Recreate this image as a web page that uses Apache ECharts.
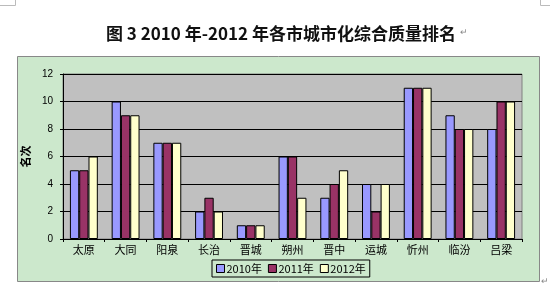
<!DOCTYPE html>
<html><head><meta charset="utf-8">
<script src="https://cdn.jsdelivr.net/npm/echarts@6/dist/echarts.min.js"></script>
<style>html,body{margin:0;padding:0;background:#fff}#c{width:550px;height:291px}</style>
</head><body><div id="c"></div>
<script>
const categories = ['太原','大同','阳泉','长治','晋城','朔州','晋中','运城','忻州','临汾','吕梁'];
const s2010 = [5,10,7,2,1,6,3,4,11,9,8];
const s2011 = [5,9,7,3,1,6,4,2,11,8,10];
const s2012 = [6,9,7,2,1,3,5,4,11,8,10];
const seriesNames = ['2010年','2011年','2012年'];
const yTicks = {min:0,max:12,interval:2};

const colors = ['#9999ff','#993366','#ffffcc'];
const chart = echarts.init(document.getElementById('c'), null, {renderer:'canvas'});
const mk = (name, data, i) => ({
  name, type:'bar', data, barWidth:9.3, barGap:'0%',
  itemStyle:{color:colors[i], borderColor:'#000', borderWidth:1},
  emphasis:{disabled:true}
});
chart.setOption({
  animation:false,
  title:{text:'图 3 2010 年-2012 年各市城市化综合质量排名', left:101, top:20,
    textStyle:{fontFamily:'Noto Sans CJK SC', fontSize:17, fontWeight:'bold', color:'#111'}},
  graphic:[
    {type:'rect', z:-10, shape:{x:17.5,y:56.5,width:522,height:225}, style:{fill:'#cce8cc', stroke:'#888', lineWidth:1}},
    {type:'rect', z:-9, shape:{x:63,y:74,width:459,height:165}, style:{fill:'#c0c0c0', stroke:'#808080', lineWidth:1}},
    {type:'polyline', shape:{points:[[0,5.5],[15.5,5.5],[15.5,0]]}, style:{stroke:'#bbb', fill:null, lineWidth:1}},
    {type:'polyline', shape:{points:[[550,5.5],[540.5,5.5],[540.5,0]]}, style:{stroke:'#bbb', fill:null, lineWidth:1}},
    {type:'text', left:460, top:28, style:{text:'↵', fill:'#888', font:'9px sans-serif'}},
    {type:'text', left:541, top:277, style:{text:'↵', fill:'#888', font:'9px sans-serif'}}
  ],
  grid:{left:63, right:28, top:74, bottom:52, containLabel:false},
  legend:{data:seriesNames, bottom:14, left:212, itemWidth:8, itemHeight:8, itemGap:6,
    padding:[3,4,3,4], borderColor:'#000', borderWidth:1, backgroundColor:'#cce8cc',
    icon:'rect',
    textStyle:{fontFamily:'Noto Sans CJK SC', fontSize:11, color:'#000', padding:[0,0,0,-3]},
    itemStyle:{borderColor:'#000', borderWidth:1}},
  xAxis:{type:'category', data:categories,
    axisLine:{lineStyle:{color:'#000', width:1}},
    axisTick:{show:true, length:3, inside:false, lineStyle:{color:'#000'}},
    axisLabel:{fontFamily:'Noto Sans CJK SC', fontSize:11, color:'#000', margin:5}},
  yAxis:{type:'value', min:yTicks.min, max:yTicks.max, interval:yTicks.interval,
    name:'名次', nameLocation:'middle', nameGap:30,
    nameTextStyle:{fontFamily:'Noto Sans CJK SC', fontSize:11, fontWeight:'bold', color:'#000'},
    axisLine:{show:true, lineStyle:{color:'#000'}},
    axisTick:{show:true, length:3, lineStyle:{color:'#000'}},
    splitLine:{lineStyle:{color:'#000', width:1}},
    axisLabel:{fontFamily:'Liberation Sans', fontSize:10, color:'#000', margin:10}},
  series:[mk(seriesNames[0], s2010, 0), mk(seriesNames[1], s2011, 1), mk(seriesNames[2], s2012, 2)]
});
</script></body></html>
